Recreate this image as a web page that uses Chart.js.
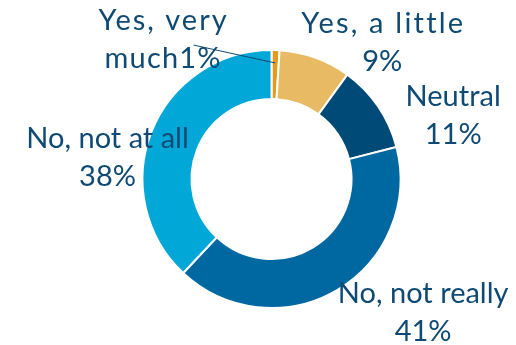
<!DOCTYPE html>
<html>
<head>
<meta charset="utf-8">
<script src="https://cdn.jsdelivr.net/npm/chart.js@4"></script>
<style>
html, body { margin: 0; padding: 0; background: #fff; }
#wrap { width: 516px; height: 345px; }
</style>
</head>
<body>
<div id="wrap"><canvas id="myChart" width="516" height="345"></canvas></div>
<script>
const categories = ['Yes, very much', 'Yes, a little', 'Neutral', 'No, not really', 'No, not at all'];
const shares = [1, 9, 11, 41, 38];
const pctLabels = ['1%', '9%', '11%', '41%', '38%'];
const sliceColors = ['#E49B1C', '#E8BA63', '#004A78', '#0068A0', '#00A7D7'];

// the first label wraps oddly in the original ("much1%")
const labelLines = categories.map(function (c, i) {
    return i === 0 ? ['Yes, very', 'much' + pctLabels[i]] : [c, pctLabels[i]];
});

// label placement relative to the outer edge of each slice
const labelShift = [[-113, -20], [67, -25], [75, -0.5], [86, 13], [-44, 16.5]];
// extra letter spacing per line (the "Yes" labels are spread out in the original)
const labelSpacing = [[2, 1.2], [2.2, 0], [0, 0], [0, 0], [0, 0]];
const lineGap = 38;

const outsideLabels = {
    id: 'outsideLabels',
    afterDatasetsDraw: function (chart) {
        const ctx = chart.ctx;
        const arcs = chart.getDatasetMeta(0).data;
        ctx.save();
        ctx.font = '29px Lato';
        ctx.fillStyle = '#0f4a74';
        ctx.strokeStyle = '#0f4a74';
        ctx.textAlign = 'center';
        ctx.textBaseline = 'alphabetic';
        arcs.forEach(function (arc, i) {
            const p = arc.getProps(['x', 'y', 'startAngle', 'endAngle', 'outerRadius'], true);
            const mid = (p.startAngle + p.endAngle) / 2;
            const ox = p.x + Math.cos(mid) * p.outerRadius;
            const oy = p.y + Math.sin(mid) * p.outerRadius;
            const tx = ox + labelShift[i][0];
            const ty = oy + labelShift[i][1];
            labelLines[i].forEach(function (t, k) {
                const sp = labelSpacing[i][k];
                ctx.letterSpacing = sp + 'px';
                ctx.fillText(t, tx + sp / 2, ty + k * lineGap);
            });
            ctx.letterSpacing = '0px';
            // leader line for the tiny slice
            if (i === 0) {
                ctx.lineWidth = 1;
                ctx.beginPath();
                ctx.moveTo(tx + 31, ty + 15);
                ctx.lineTo(p.x + Math.cos(mid) * p.outerRadius * 0.9, p.y + Math.sin(mid) * p.outerRadius * 0.9);
                ctx.stroke();
            }
        });
        ctx.restore();
    }
};

const ctx = document.getElementById('myChart').getContext('2d');
const chart = new Chart(ctx, {
    type: 'doughnut',
    data: {
        labels: categories,
        datasets: [{
            data: shares,
            backgroundColor: sliceColors,
            borderColor: '#ffffff',
            borderWidth: 2
        }]
    },
    options: {
        responsive: false,
        animation: false,
        cutout: '62%',
        layout: { padding: { top: 49, bottom: 36, left: 27, right: 0 } },
        plugins: {
            legend: { display: false },
            tooltip: { enabled: false }
        }
    },
    plugins: [outsideLabels]
});
</script>
</body>
</html>
